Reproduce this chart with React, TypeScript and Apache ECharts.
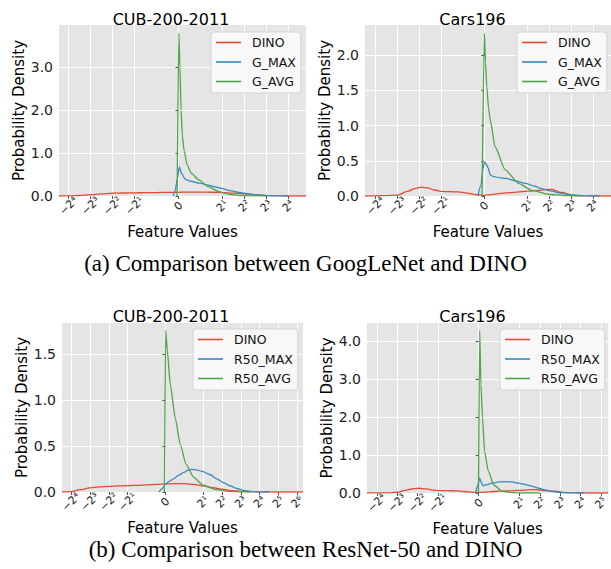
import React, { useEffect, useRef } from 'react';
import * as echarts from 'echarts';

// x values are positions on the symlog (base 2) feature axis:
// u = x inside |x| <= 1, u = ±(1 + log2|x|) outside; ticks at ±2^k.
const cubGoogDino: [number, number][] = [
  [-5.44, 0], [-5, 0.003], [-4.5, 0.012], [-4, 0.03], [-3.5, 0.05], [-3, 0.065], [-2.5, 0.07],
  [-2, 0.074], [-1.5, 0.077], [-1, 0.081], [-0.5, 0.085], [0, 0.088], [0.5, 0.09], [1, 0.09],
  [1.5, 0.087], [2, 0.08], [2.5, 0.068], [3, 0.05], [3.5, 0.028], [4, 0.01], [4.5, 0.003], [5, 0.0005], [5.81, 0],
];
const cubGoogMax: [number, number][] = [
  [-0.24, 0], [-0.15, 0.12], [-0.05, 0.4], [0.04, 0.68], [0.15, 0.52], [0.3, 0.4], [0.4, 0.37],
  [0.6, 0.34], [0.95, 0.3], [1.3, 0.26], [1.6, 0.22], [1.95, 0.18], [2.4, 0.12], [2.75, 0.085],
  [3.2, 0.05], [3.6, 0.025], [4, 0.01], [4.5, 0.002], [5, 0],
];
const cubGoogAvg: [number, number][] = [
  [-0.06, 0], [0.02, 3.8], [0.07, 3.0], [0.12, 2.0], [0.18, 1.4], [0.26, 1.05], [0.4, 0.72],
  [0.6, 0.52], [0.95, 0.37], [1.35, 0.22], [1.85, 0.1], [2.3, 0.04], [2.8, 0.012], [3.3, 0.002], [4, 0],
];

const carsGoogDino: [number, number][] = [
  [-5.49, 0], [-5, 0.003], [-4.5, 0.005], [-4, 0.012], [-3.5, 0.07], [-3.2, 0.105], [-2.9, 0.125],
  [-2.6, 0.115], [-2.3, 0.085], [-2, 0.065], [-1.6, 0.062], [-1.2, 0.058], [-0.8, 0.042], [-0.4, 0.02],
  [-0.1, 0.01], [0.2, 0.015], [0.6, 0.03], [1, 0.043], [1.5, 0.055], [2, 0.068], [2.5, 0.08],
  [2.8, 0.09], [3.1, 0.095], [3.35, 0.07], [3.5, 0.05], [3.65, 0.052], [3.8, 0.035], [4, 0.01],
  [4.4, 0.002], [5, 0], [5.84, 0],
];
const carsGoogMax: [number, number][] = [
  [-0.29, 0], [-0.15, 0.15], [-0.05, 0.4], [0.02, 0.48], [0.1, 0.45], [0.18, 0.4], [0.28, 0.3],
  [0.4, 0.28], [0.7, 0.26], [1, 0.25], [1.5, 0.21], [1.9, 0.18], [2.3, 0.14], [2.7, 0.1],
  [3.1, 0.068], [3.5, 0.04], [3.9, 0.02], [4.3, 0.008], [4.8, 0.002], [5.3, 0],
];
const carsGoogAvg: [number, number][] = [
  [-0.1, 0], [0.01, 2.31], [0.06, 1.9], [0.12, 1.55], [0.2, 1.25], [0.28, 1.08], [0.5, 0.7],
  [0.97, 0.37], [1.58, 0.18], [2.2, 0.08], [2.96, 0.025], [3.7, 0.005], [4.5, 0],
];

const cubR50Dino: [number, number][] = [
  [-5.48, 0], [-5, 0.005], [-4.5, 0.025], [-4, 0.045], [-3.5, 0.055], [-3, 0.062], [-2.5, 0.066],
  [-2, 0.069], [-1.5, 0.073], [-1, 0.078], [-0.5, 0.083], [0, 0.088], [0.5, 0.09], [1, 0.09],
  [1.5, 0.083], [2, 0.066], [2.5, 0.048], [3, 0.032], [3.5, 0.016], [4, 0.006], [4.5, 0.001], [5, 0], [7.3, 0],
];
const cubR50Max: [number, number][] = [
  [-0.34, 0], [-0.15, 0.04], [0, 0.08], [0.2, 0.115], [0.45, 0.145], [0.7, 0.18], [1, 0.215],
  [1.2, 0.238], [1.4, 0.245], [1.65, 0.24], [2, 0.222], [2.35, 0.19], [2.75, 0.14], [3.1, 0.1],
  [3.45, 0.065], [3.8, 0.038], [4.15, 0.018], [4.5, 0.007], [4.9, 0.002], [5.5, 0],
];
const cubR50Avg: [number, number][] = [
  [-0.05, 0], [0.02, 1.76], [0.1, 1.55], [0.26, 1.17], [0.53, 0.8], [0.79, 0.52], [1.1, 0.3],
  [1.5, 0.16], [2, 0.075], [2.7, 0.025], [3.5, 0.005], [4.5, 0],
];

const carsR50Dino: [number, number][] = [
  [-5.48, 0], [-5, 0.002], [-4.5, 0.005], [-4, 0.02], [-3.6, 0.07], [-3.3, 0.105], [-2.95, 0.125],
  [-2.6, 0.11], [-2.25, 0.075], [-1.9, 0.065], [-1.5, 0.064], [-1.1, 0.055], [-0.7, 0.04],
  [-0.3, 0.018], [0, 0.012], [0.5, 0.03], [1, 0.048], [1.5, 0.058], [2, 0.067], [2.6, 0.088],
  [2.9, 0.085], [3.25, 0.06], [3.55, 0.048], [3.8, 0.05], [4, 0.025], [4.3, 0.005], [5, 0], [6.36, 0],
];
const carsR50Max: [number, number][] = [
  [-0.15, 0], [-0.05, 0.2], [0.05, 0.39], [0.13, 0.28], [0.21, 0.19], [0.4, 0.22], [0.66, 0.26],
  [1, 0.29], [1.31, 0.3], [1.65, 0.29], [1.96, 0.26], [2.3, 0.22], [2.6, 0.18], [2.95, 0.125],
  [3.25, 0.08], [3.6, 0.045], [3.9, 0.02], [4.3, 0.006], [4.7, 0.001], [5.2, 0],
];
const carsR50Avg: [number, number][] = [
  [-0.01, 0], [0.05, 4.27], [0.11, 2.85], [0.19, 1.97], [0.29, 1.09], [0.47, 0.58], [0.74, 0.21],
  [1.15, 0.05], [1.6, 0.01], [2.2, 0], [3, 0],
];

// tick positions (symlog units) and y ticks
const xTicksTop = [-5, -4, -3, -2, 0, 2, 3, 4, 5];
const xTicksCubR50 = [-5, -4, -3, -2, 0, 2, 3, 4, 5, 6, 7];
const xTicksCarsR50 = [-5, -4, -3, -2, 0, 2, 3, 4, 5, 6];
const yTicksCubGoog = [0, 1, 2, 3];
const yTicksCarsGoog = [0, 0.5, 1, 1.5, 2];
const yTicksCubR50 = [0, 0.5, 1, 1.5];
const yTicksCarsR50 = [0, 1, 2, 3, 4];

const subplotTitles = ['CUB-200-2011', 'Cars196', 'CUB-200-2011', 'Cars196'];
const captions = ['(a) Comparison between GoogLeNet and DINO', '(b) Comparison between ResNet-50 and DINO'];

const COLORS = { dino: '#E24A33', max: '#348ABD', avg: '#4FA34A' };

const SUP = ['\u2070', '\u00B9', '\u00B2', '\u00B3', '\u2074', '\u2075', '\u2076', '\u2077'];
function symlogLabel(v: number): string {
  const u = Math.round(v);
  if (u === 0) return '0';
  const k = Math.abs(u) - 1;
  return (u < 0 ? '\u22122' : '2') + SUP[k];
}

const panels = [
  {
    title: subplotTitles[0], titleX: 171, titleY: 11,
    grid: { left: 59, top: 25, width: 247, height: 171 }, nameGapX: 28.5,
    xMin: -5.44, xMax: 5.81, yMax: 3.99, xTicks: xTicksTop, yTicks: yTicksCubGoog,
    legend: { left: 211, top: 32 },
    series: [['DINO', cubGoogDino, COLORS.dino], ['G_MAX', cubGoogMax, COLORS.max], ['G_AVG', cubGoogAvg, COLORS.avg]],
  },
  {
    title: subplotTitles[1], titleX: 472.5, titleY: 11,
    grid: { left: 365, top: 25, width: 246, height: 171 }, nameGapX: 28.5,
    xMin: -5.49, xMax: 5.84, yMax: 2.43, xTicks: xTicksTop, yTicks: yTicksCarsGoog,
    legend: { left: 517, top: 32 },
    series: [['DINO', carsGoogDino, COLORS.dino], ['G_MAX', carsGoogMax, COLORS.max], ['G_AVG', carsGoogAvg, COLORS.avg]],
  },
  {
    title: subplotTitles[2], titleX: 171, titleY: 308,
    grid: { left: 62, top: 323, width: 241, height: 169 }, nameGapX: 28.5,
    xMin: -5.48, xMax: 7.3, yMax: 1.837, xTicks: xTicksCubR50, yTicks: yTicksCubR50,
    legend: { left: 193, top: 329 },
    series: [['DINO', cubR50Dino, COLORS.dino], ['R50_MAX', cubR50Max, COLORS.max], ['R50_AVG', cubR50Avg, COLORS.avg]],
  },
  {
    title: subplotTitles[3], titleX: 472.5, titleY: 308,
    grid: { left: 367, top: 323, width: 244, height: 170 }, nameGapX: 28,
    xMin: -5.48, xMax: 6.36, yMax: 4.47, xTicks: xTicksCarsR50, yTicks: yTicksCarsR50,
    legend: { left: 500, top: 329 },
    series: [['DINO', carsR50Dino, COLORS.dino], ['R50_MAX', carsR50Max, COLORS.max], ['R50_AVG', carsR50Avg, COLORS.avg]],
  },
];

export default function App() {
  const ref = useRef<HTMLDivElement>(null);
  useEffect(() => {
    if (!ref.current) return;
    const chart = echarts.init(ref.current, undefined, { renderer: 'svg' });
    const FONT = 'DejaVu Sans';
    const option: any = {
      animation: false,
      backgroundColor: '#ffffff',
      textStyle: { fontFamily: FONT },
      title: [
        ...panels.map((p) => ({
          text: p.title, left: p.titleX, top: p.titleY, textAlign: 'center', padding: 0,
          textStyle: { fontFamily: FONT, fontSize: 16, lineHeight: 16, fontWeight: 'normal', color: '#000' },
        })),
        ...captions.map((c, i) => ({
          text: c, left: 305.5, top: i === 0 ? 255 : 541, textAlign: 'center', padding: 0,
          textStyle: { fontFamily: 'Liberation Serif', fontSize: 23, lineHeight: 16, fontWeight: 'normal', color: '#000' },
        })),
      ],
      grid: panels.map((p) => ({ ...p.grid, show: true, backgroundColor: '#E5E5E5', borderWidth: 0 })),
      legend: panels.map((p) => ({
        left: p.legend.left, top: p.legend.top, orient: 'vertical',
        data: p.series.map((s) => s[0]),
        icon: 'rect', itemWidth: 25, itemHeight: 1.6, itemGap: 6.5,
        padding: [4, 5, 5, 5],
        backgroundColor: '#F8F8F8', borderColor: '#D3D3D3', borderWidth: 1, borderRadius: 3,
        selectedMode: false,
        textStyle: { fontFamily: FONT, fontSize: 12.5, color: '#111', padding: [0, 0, 0, 6] },
      })),
      xAxis: panels.map((p, i) => ({
        type: 'value', gridIndex: i, min: p.xMin, max: p.xMax,
        axisLine: { show: false },
        axisTick: { show: true, customValues: p.xTicks, length: 3, lineStyle: { color: '#555' } },
        splitLine: { show: true, lineStyle: { color: '#ffffff', width: 1 } },
        axisLabel: {
          customValues: p.xTicks, formatter: symlogLabel, rotate: 45, align: 'center', verticalAlign: 'middle',
          margin: 10, fontSize: 11, color: '#222', fontFamily: FONT,
        },
        name: 'Feature Values', nameLocation: 'middle', nameGap: p.nameGapX,
        nameTextStyle: { fontFamily: FONT, fontSize: 15, lineHeight: 15, color: '#000' },
      })),
      yAxis: panels.map((p, i) => ({
        type: 'value', gridIndex: i, min: 0, max: p.yMax,
        axisLine: { show: false },
        axisTick: { show: true, customValues: p.yTicks, length: 3, lineStyle: { color: '#555' } },
        splitLine: { show: true, lineStyle: { color: '#ffffff', width: 1 } },
        axisLabel: {
          customValues: p.yTicks, formatter: (v: number) => v.toFixed(1),
          margin: 6, fontSize: 14, color: '#222', fontFamily: FONT,
        },
        name: 'Probability Density', nameLocation: 'middle', nameGap: 27,
        nameTextStyle: { fontFamily: FONT, fontSize: 15, color: '#000' },
      })),
      series: panels.flatMap((p, i) =>
        p.series.map((s, j) => ({
          type: 'line', name: s[0] as string, xAxisIndex: i, yAxisIndex: i,
          data: s[1], symbol: 'none', showSymbol: false,
          smooth: j === 2 ? 0.2 : j === 0 ? 0.4 : 0.25,
          smoothMonotone: 'x',
          color: s[2], itemStyle: { color: s[2] },
          lineStyle: { color: s[2], width: 1.3 },
          clip: true,
        }))
      ),
    };
    chart.setOption(option);
    return () => chart.dispose();
  }, []);
  return (
    <div
      ref={ref}
      style={{ position: 'absolute', left: 0, top: 0, width: 611, height: 569, background: '#fff' }}
    />
  );
}
